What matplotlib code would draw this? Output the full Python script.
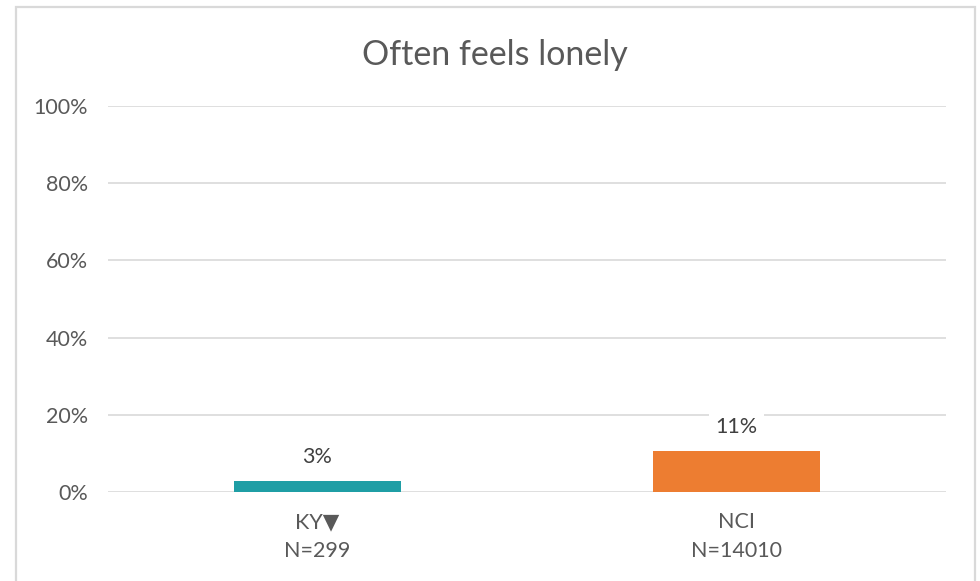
import matplotlib
matplotlib.use("Agg")
import matplotlib.pyplot as plt
from matplotlib.patches import Rectangle

categories = ["KY\u25BC\nN=299", "NCI\nN=14010"]
values = [0.029, 0.106]
value_labels = ["3%", "11%"]
colors = ["#1f9ea5", "#ed7d31"]
yticks = [0, 0.2, 0.4, 0.6, 0.8, 1.0]
ytick_labels = ["0%", "20%", "40%", "60%", "80%", "100%"]
title = "Often feels lonely"

plt.rcParams['font.family'] = ['Lato', 'DejaVu Sans']
text_color = "#595959"

fig = plt.figure(figsize=(9.8, 5.81), dpi=100)
fig.patches.append(Rectangle((15.5/980, -0.01), (975-15.5)/980, 1 - 7.5/581 + 0.01,
                             transform=fig.transFigure, fill=False,
                             edgecolor="#d9d9d9", linewidth=1.6, zorder=0))

ax = fig.add_axes([108/980, 1 - 492/581, (946-108)/980, (492-106)/581])
x = list(range(len(categories)))
ax.bar(x, values, width=0.4, color=colors, zorder=3)
ax.set_xlim(-0.5, len(categories) - 0.5)
ax.set_ylim(0, 1.0)
ax.set_yticks(yticks)
ax.set_yticklabels(ytick_labels)
ax.set_xticks(x)
ax.set_xticklabels(categories, linespacing=1.55)
ax.tick_params(axis='both', length=0, colors=text_color, labelsize=15.5)
ax.tick_params(axis='y', pad=14.5)
ax.tick_params(axis='x', pad=14.5)
for s in ax.spines.values():
    s.set_visible(False)
ax.grid(axis='y', color="#d9d9d9", linewidth=1.2, zorder=0)
ax.set_axisbelow(True)

for xi, v, lab in zip(x, values, value_labels):
    ax.annotate(lab, (xi, v), xytext=(0, 24), textcoords='offset pixels',
                ha='center', va='center', fontsize=15.5, color="#404040",
                bbox=dict(boxstyle='square,pad=0.3', facecolor='white', edgecolor='none'),
                zorder=4)

fig.text(495/980, 1 - 55/581, title, ha='center', va='center', fontsize=24.5, color=text_color)

fig.savefig("out.png", dpi=100, facecolor='white')
